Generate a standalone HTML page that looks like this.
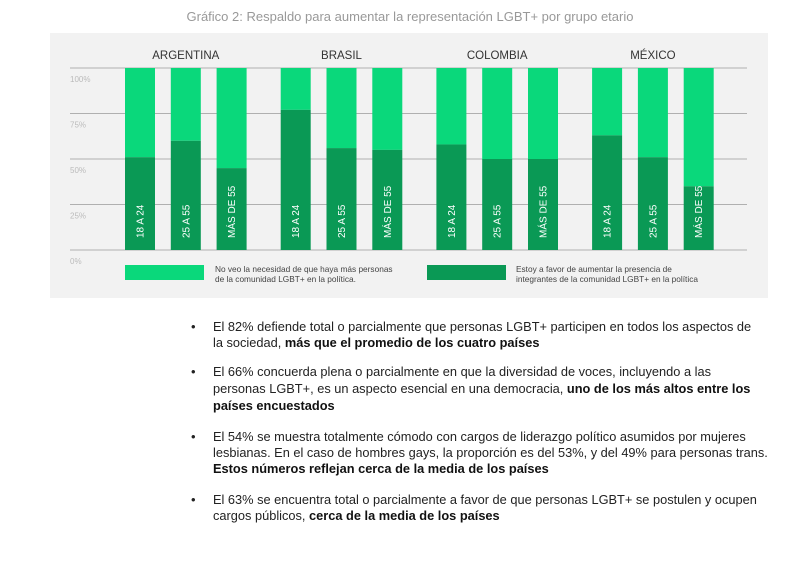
<!DOCTYPE html>
<html><head><meta charset="utf-8"><style>
body{margin:0;background:#fff;width:800px;height:564px;overflow:hidden;font-family:"Liberation Sans",sans-serif;position:relative}
.ln{position:absolute;left:213px;font-size:12.8px;color:#222;white-space:nowrap}
.bl{position:absolute;left:191px;font-size:13px;color:#222}
b{font-weight:bold;color:#111}
</style></head><body>
<div style="position:absolute;top:9px;left:0;width:820px;text-align:center;font-size:13px;color:#999">Gráfico 2: Respaldo para aumentar la representación LGBT+ por grupo etario</div>
<svg id="chart" width="800" height="300" style="position:absolute;left:0;top:0" xmlns="http://www.w3.org/2000/svg">
<rect x="50" y="33" width="718" height="265" fill="#f2f2f2"/>
</svg>
<script>
const countries=["ARGENTINA","BRASIL","COLOMBIA","MÉXICO"];
const groups=["18 A 24","25 A 55","MÁS DE 55"];
const favorValues=[[51,60,45],[77,56,55],[58,50,50],[63,51,35]];
const ticks=[0,25,50,75,100];
const NS="http://www.w3.org/2000/svg";
const svg=document.getElementById('chart');
const y0=250,y100=68;
function yScale(v){return y0-(y0-y100)*v/100;}
function xBar(c,g){return 125+c*155.7+g*45.8;}
const bw=30;
function mk(t,a){const e=document.createElementNS(NS,t);for(const k in a)e.setAttribute(k,a[k]);svg.appendChild(e);return e;}
ticks.forEach(t=>{
 const l=mk('line',{x1:70,x2:747,y1:yScale(t),y2:yScale(t),stroke:'#9a9a9a','stroke-width':0.8});
 
 
 const tx=mk('text',{x:70,y:yScale(t)+14,'font-size':8,fill:'#bbb','font-family':'Liberation Sans'});
 tx.textContent=t+'%';
 
 
});
countries.forEach((c,ci)=>{
 const ct=mk('text',{x:xBar(ci,1)+bw/2,y:59,'font-size':11.5,fill:'#333','text-anchor':'middle','font-family':'Liberation Sans'});
 ct.textContent=c;
 
 
 groups.forEach((g,gi)=>{
  const v=favorValues[ci][gi],x=xBar(ci,gi);
  const r1=mk('rect',{x:x,y:yScale(100),width:bw,height:yScale(v)-yScale(100),fill:'#0ad87b'});
  
  
  const r2=mk('rect',{x:x,y:yScale(v),width:bw,height:y0-yScale(v),fill:'#0a9955'});
  
  
  const tx=mk('text',{x:0,y:0,'font-size':10,fill:'#fff','font-family':'Liberation Sans',transform:`translate(${x+bw/2+3.5},${y0-12}) rotate(-90)`});
  tx.textContent=g;
  
  
 });
});
const s1=mk('rect',{x:125,y:265,width:79,height:15,fill:'#0ad87b'});


const s2=mk('rect',{x:427,y:265,width:79,height:15,fill:'#0a9955'});


[[215,"No veo la necesidad de que haya más personas","de la comunidad LGBT+ en la política."],[516,"Estoy a favor de aumentar la presencia de","integrantes de la comunidad LGBT+ en la política"]].forEach(([x,a,b])=>{
 [a,b].forEach((s,i)=>{
  const t=mk('text',{x:x,y:272+i*10,'font-size':8.3,fill:'#444','font-family':'Liberation Sans'});
  t.textContent=s;
  
  
 });
});
</script>
<div>
<div class="bl" style="top:319px">•</div>
<div class="ln" style="top:319px">El 82% defiende total o parcialmente que personas LGBT+ participen en todos los aspectos de</div>
<div class="ln" style="top:335px">la sociedad, <b>más que el promedio de los cuatro países</b></div>
<div class="bl" style="top:364px">•</div>
<div class="ln" style="top:364px">El 66% concuerda plena o parcialmente en que la diversidad de voces, incluyendo a las</div>
<div class="ln" style="top:381px">personas LGBT+, es un aspecto esencial en una democracia, <b>uno de los más altos entre los</b></div>
<div class="ln" style="top:398px"><b>países encuestados</b></div>
<div class="bl" style="top:429px">•</div>
<div class="ln" style="top:429px">El 54% se muestra totalmente cómodo con cargos de liderazgo político asumidos por mujeres</div>
<div class="ln" style="top:445px">lesbianas. En el caso de hombres gays, la proporción es del 53%, y del 49% para personas trans.</div>
<div class="ln" style="top:461px"><b>Estos números reflejan cerca de la media de los países</b></div>
<div class="bl" style="top:492px">•</div>
<div class="ln" style="top:492px">El 63% se encuentra total o parcialmente a favor de que personas LGBT+ se postulen y ocupen</div>
<div class="ln" style="top:508px">cargos públicos, <b>cerca de la media de los países</b></div>
</div>
</body></html>
